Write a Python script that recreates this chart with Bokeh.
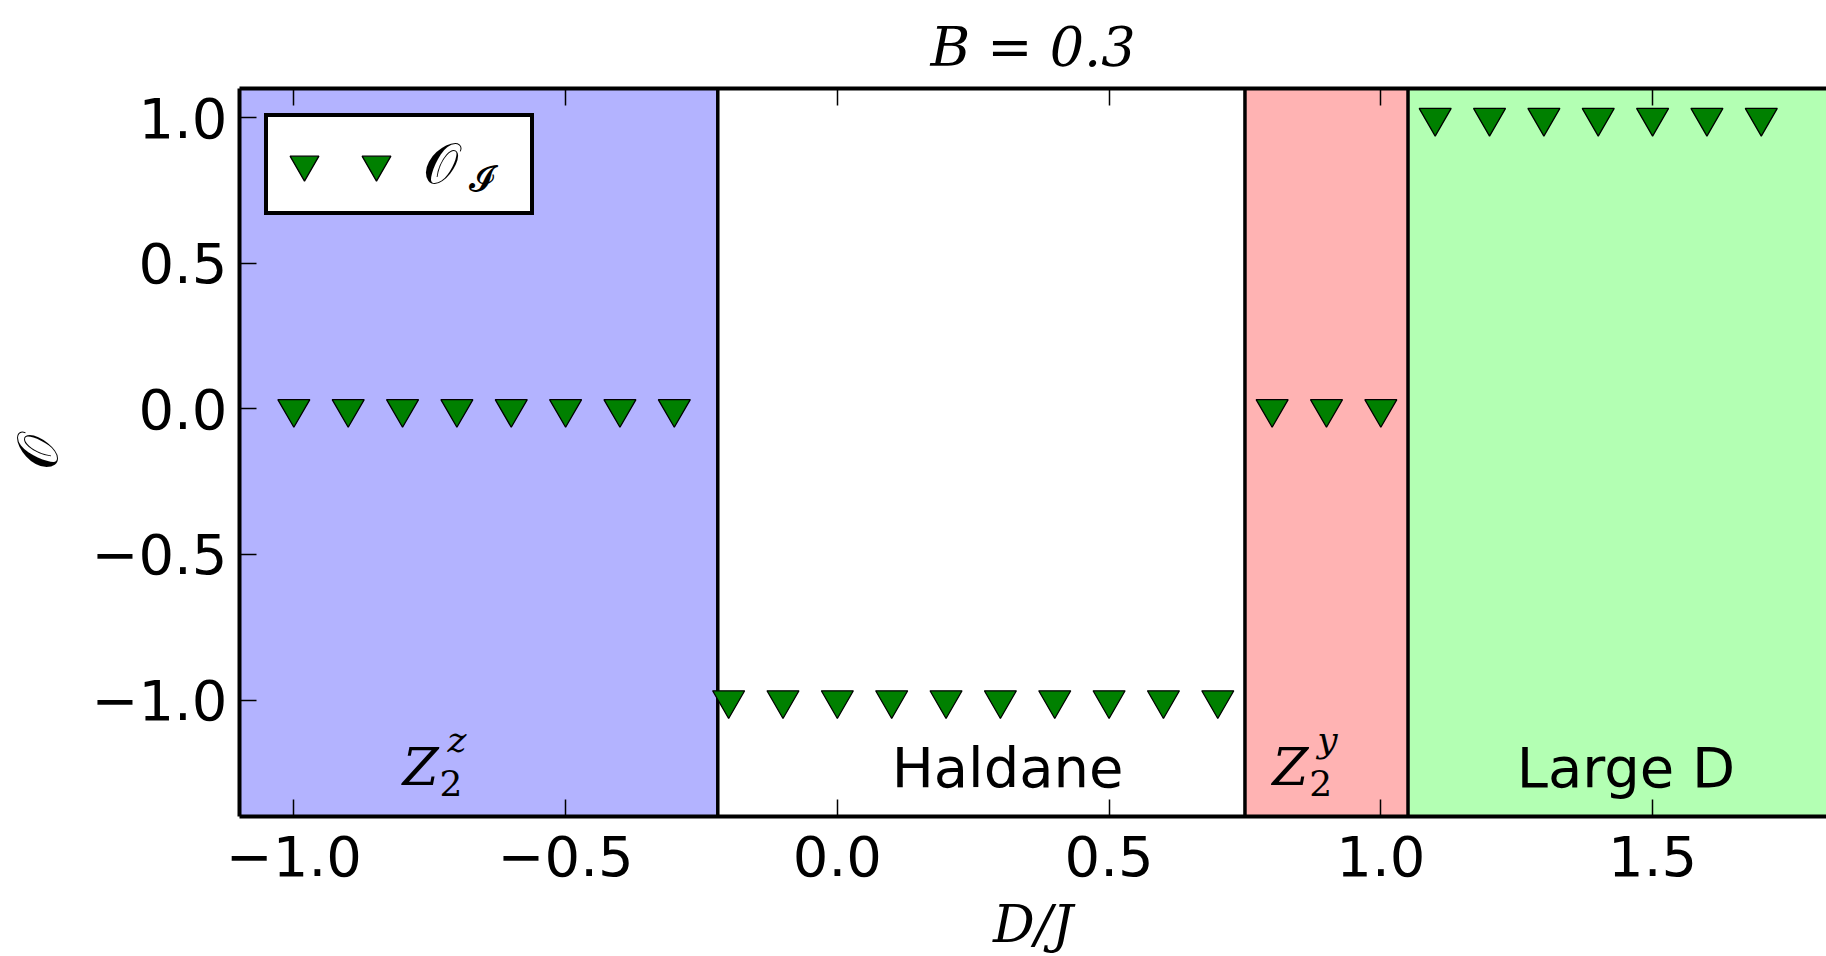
from bokeh.plotting import figure
from bokeh.models import (Range1d, FixedTicker, LinearAxis, BoxAnnotation, Span, Label,
                          Legend, LegendItem, ColumnDataSource, CustomJSTickFormatter)
from bokeh.embed import file_html
from bokeh.resources import INLINE

# ---------------- data ----------------
d_over_j = [-1.0, -0.9, -0.8, -0.7, -0.6, -0.5, -0.4, -0.3,
            -0.2, -0.1, 0.0, 0.1, 0.2, 0.3, 0.4, 0.5, 0.6, 0.7,
            0.8, 0.9, 1.0,
            1.1, 1.2, 1.3, 1.4, 1.5, 1.6, 1.7]
order_param = [0.0, 0.0, 0.0, 0.0, 0.0, 0.0, 0.0, 0.0,
               -1.0, -1.0, -1.0, -1.0, -1.0, -1.0, -1.0, -1.0, -1.0, -1.0,
               0.0, 0.0, 0.0,
               1.0, 1.0, 1.0, 1.0, 1.0, 1.0, 1.0]

phase_bounds = [-0.22, 0.75, 1.05]
phase_label_x = [-0.8, 0.1, 0.8, 1.25]
phase_label_y = -1.3

x_ticks = [-1.0, -0.5, 0.0, 0.5, 1.0, 1.5]
x_tick_labels = ["\u22121.0", "\u22120.5", "0.0", "0.5", "1.0", "1.5"]
y_ticks = [-1.0, -0.5, 0.0, 0.5, 1.0]
y_tick_labels = ["\u22121.0", "\u22120.5", "0.0", "0.5", "1.0"]
x_limits = (-1.1, 1.82)
y_limits = (-1.4, 1.1)

# ---------------- figure ----------------
p = figure(width=1826, height=956,
           x_range=Range1d(*x_limits), y_range=Range1d(*y_limits),
           output_backend="svg", toolbar_location=None,
           min_border_left=239, min_border_right=0,
           min_border_top=88, min_border_bottom=140)
p.outline_line_color = None
p.xgrid.visible = False
p.ygrid.visible = False
p.background_fill_color = "white"
p.border_fill_color = "white"

TICK_FONT = "DejaVu Sans"
SERIF = "DejaVu Serif"

def style_axis(ax, ticks, labels):
    ax.ticker = FixedTicker(ticks=ticks)
    ax.major_label_overrides = {t: l for t, l in zip(ticks, labels)}
    ax.major_tick_in = 17
    ax.major_tick_out = 0
    ax.major_tick_line_width = 1.5
    ax.major_tick_line_color = "black"
    ax.minor_tick_line_color = None
    ax.axis_line_width = 4
    ax.axis_line_color = "black"
    ax.major_label_text_font = TICK_FONT
    ax.major_label_text_font_size = "56px"
    ax.major_label_text_color = "black"

style_axis(p.xaxis[0], x_ticks, x_tick_labels)
style_axis(p.yaxis[0], y_ticks, y_tick_labels)
p.xaxis[0].major_label_standoff = 19
p.yaxis[0].major_label_standoff = 12

p.xaxis[0].axis_label = "D/J"
p.xaxis[0].axis_label_text_font = SERIF
p.xaxis[0].axis_label_text_font_style = "italic"
p.xaxis[0].axis_label_text_font_size = "52px"
p.xaxis[0].axis_label_text_color = "black"
p.xaxis[0].axis_label_standoff = 15

p.yaxis[0].axis_label = "\U0001D4AA"
p.yaxis[0].axis_label_text_font = SERIF
p.yaxis[0].axis_label_text_font_style = "normal"
p.yaxis[0].axis_label_text_font_size = "56px"
p.yaxis[0].axis_label_text_color = "black"
p.yaxis[0].axis_label_standoff = 19

top_axis = LinearAxis()
style_axis(top_axis, x_ticks, ["" for _ in x_ticks])
top_axis.formatter = CustomJSTickFormatter(code="return ''")
top_axis.major_label_overrides = {}
top_axis.major_label_text_font_size = "1px"
top_axis.major_label_standoff = 0
p.add_layout(top_axis, "above")

# ---------------- title ----------------
p.title.text = "B = 0.3"
p.title.text_font = SERIF
p.title.text_font_style = "italic"
p.title.text_font_size = "54px"
p.title.text_color = "black"
p.title.align = "center"
p.title.offset = 8
p.title.standoff = 19

# ---------------- phase regions ----------------
p.add_layout(BoxAnnotation(right=phase_bounds[0], fill_color="#b3b3ff", fill_alpha=1.0,
                           line_color=None, level="underlay"))
p.add_layout(BoxAnnotation(left=phase_bounds[1], right=phase_bounds[2], fill_color="#ffb3b3",
                           fill_alpha=1.0, line_color=None, level="underlay"))
p.add_layout(BoxAnnotation(left=phase_bounds[2], fill_color="#b3ffb3", fill_alpha=1.0,
                           line_color=None, level="underlay"))
for b in phase_bounds:
    p.add_layout(Span(location=b, dimension="height", line_color="black",
                      line_width=3.5, level="underlay"))

# ---------------- data markers ----------------
src = ColumnDataSource(data=dict(x=d_over_j, y=order_param))
r = p.scatter("x", "y", source=src, marker="inverted_triangle", size=32,
              fill_color="#008000", line_color="black", line_width=1.3)

# invisible renderer used only to reserve legend space (no data, fully transparent)
ghost_src = ColumnDataSource(data=dict(x=[], y=[]))
ghost = p.scatter("x", "y", source=ghost_src, size=0, fill_alpha=0, line_alpha=0)

# ---------------- legend ----------------
legend = Legend(items=[LegendItem(label="", renderers=[r]),
                       LegendItem(label="\u2009\U0001D4AA", renderers=[r]),
                       LegendItem(label="", renderers=[ghost])],
                location="top_left", orientation="horizontal",
                margin=25, padding=0, spacing=0, label_standoff=0,
                glyph_width=72, glyph_height=94, label_width=0,
                label_text_font=SERIF, label_text_font_size="56px",
                label_text_color="black",
                border_line_color="black", border_line_width=4, border_line_alpha=1.0,
                background_fill_color="white", background_fill_alpha=1.0)
p.add_layout(legend)

# subscript of the legend label: a second, borderless legend drawn over the first
sub_legend = Legend(items=[LegendItem(label="\U0001D4D8", renderers=[ghost])],
                    location=(229, 616), orientation="horizontal",
                    margin=0, padding=0, spacing=0, label_standoff=0,
                    glyph_width=1, glyph_height=1, label_width=0, label_height=0,
                    label_text_font=SERIF, label_text_font_size="36px",
                    label_text_color="black",
                    border_line_color=None, background_fill_alpha=0.0)
p.add_layout(sub_legend)

# ---------------- phase labels ----------------
LIFT = 20  # px

def z2_label(x, sup):
    p.add_layout(Label(x=x, y=phase_label_y, text="Z", text_font=SERIF, text_color="black",
                       text_font_style="italic", text_font_size="52px", y_offset=LIFT,
                       text_baseline="alphabetic", text_align="left"))
    p.add_layout(Label(x=x, y=phase_label_y, text="2", text_font=SERIF, text_color="black",
                       text_font_size="36px", x_offset=37, y_offset=LIFT - 16,
                       text_baseline="alphabetic", text_align="left"))
    p.add_layout(Label(x=x, y=phase_label_y, text=sup, text_font=SERIF, text_color="black",
                       text_font_style="italic", text_font_size="36px",
                       x_offset=45, y_offset=LIFT + 28,
                       text_baseline="alphabetic", text_align="left"))

z2_label(phase_label_x[0], "z")
p.add_layout(Label(x=phase_label_x[1], y=phase_label_y, text="Haldane", text_font=TICK_FONT,
                   text_color="black", y_offset=LIFT,
                   text_font_size="56px", text_baseline="alphabetic", text_align="left"))
z2_label(phase_label_x[2], "y")
p.add_layout(Label(x=phase_label_x[3], y=phase_label_y, text="Large D", text_font=TICK_FONT,
                   text_color="black", y_offset=LIFT,
                   text_font_size="56px", text_baseline="alphabetic", text_align="left"))

open("out.html", "w").write(file_html(p, INLINE))
